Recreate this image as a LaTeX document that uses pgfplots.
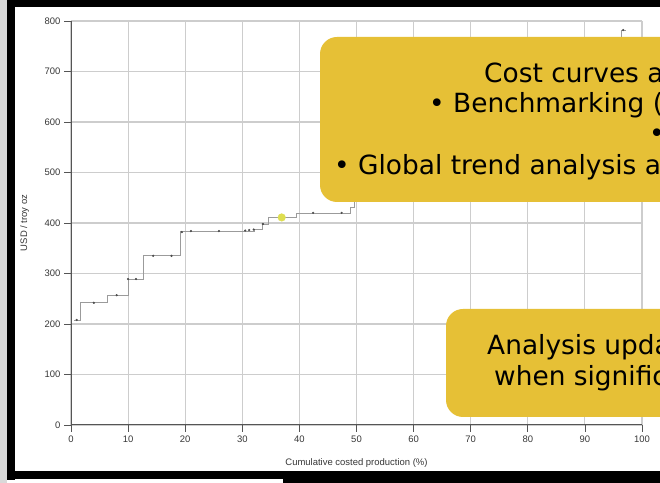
\documentclass[border=0pt]{standalone}
\usepackage{pgfplots}
\pgfplotsset{compat=1.18}
\usepackage{fontspec}
\setmainfont{Liberation Sans}
\newfontfamily\boxfont{DejaVu Sans}
\definecolor{boxyellow}{RGB}{230,192,54}
\definecolor{gridgray}{RGB}{205,205,205}
\definecolor{axisgray}{RGB}{85,85,85}
\definecolor{ticktext}{RGB}{55,55,55}
\definecolor{curvegray}{RGB}{155,155,155}
\definecolor{dotyellow}{RGB}{222,222,80}
\begin{document}
\begin{tikzpicture}[x=1bp,y=1bp]
\fill[white] (0,0) rectangle (660,483);
\fill[black!15] (0,0) rectangle (7,483);
\begin{axis}[
  at={(71bp,58bp)}, anchor=south west,
  scale only axis, width=571bp, height=404bp,
  xmin=0, xmax=100, ymin=0, ymax=800,
  enlargelimits=false,
  xtick={0,10,...,100}, ytick={0,100,...,800},
  grid=major, grid style={gridgray, line width=1.1bp},
  axis lines=left, axis line style={-, draw=axisgray, line width=1bp},
  tick align=outside, major tick length=7bp,
  tick style={axisgray, line width=0.8bp},
  /pgf/number format/assume math mode=true,
  ticklabel style={font=\fontsize{9.5}{11}\selectfont, text=ticktext},
  xlabel={Cumulative costed production (\%)},
  ylabel={USD / troy oz},
  label style={font=\fontsize{9.5}{11}\selectfont, text=ticktext},
  xlabel style={at={(axis description cs:0.5,-0.095)}, anchor=center},
  ylabel style={at={(axis description cs:-0.081,0.5)}, anchor=center},
  clip=false,
]
\addplot[const plot, curvegray, line width=0.75bp] coordinates {
 (0.5,208) (1.6,242) (6.3,257) (10,289) (12.7,335) (19.1,384)
 (32.2,388) (33.6,398) (34.5,412) (39.5,420) (48.9,430) (49.6,455)
 (55,470) (62,500) (70,545) (78,590) (85,640) (92,700) (96.4,782) (97.2,782)
};
\addplot[only marks, mark=*, mark size=0.9bp, black!70] coordinates {
 (1,208) (4,242) (8,257) (10,289) (11.4,289) (14.4,335) (17.6,335)
 (19.4,382) (21,384) (25.9,384) (30.5,385) (31.2,386) (32,387)
 (33.6,398) (42.4,420) (47.4,420) (96.7,782)
};
\addplot[only marks, mark=*, mark size=3.8bp, dotyellow, draw=none] coordinates {(36.9,411)};
\end{axis}
% frame
\fill[black] (7,3) rectangle (15,483);
\fill[black] (7,476) rectangle (660,483);
\fill[black] (7,4) rectangle (283,12);
\fill[black] (283,0) rectangle (660,12);
\begin{scope}
\clip (0,0) rectangle (660,483);
\fill[boxyellow, rounded corners=17bp] (320,281) rectangle (720,446);
\fill[boxyellow, rounded corners=17bp] (446,66) rectangle (720,174);
\begin{scope}[every node/.style={inner sep=0pt, anchor=base west, font=\boxfont\fontsize{26.5}{30}\selectfont}]
\node at (484,400) {Cost curves a};
\node at (429,370) {• Benchmarking (};
\node at (649,340) {•};
\node at (334,308) {• Global trend analysis a};
\node at (487,128) {Analysis upda};
\node at (494,97) {when signific};
\end{scope}
\end{scope}
\pgfresetboundingbox
\useasboundingbox (0,0) rectangle (660,483);
\end{tikzpicture}
\end{document}
